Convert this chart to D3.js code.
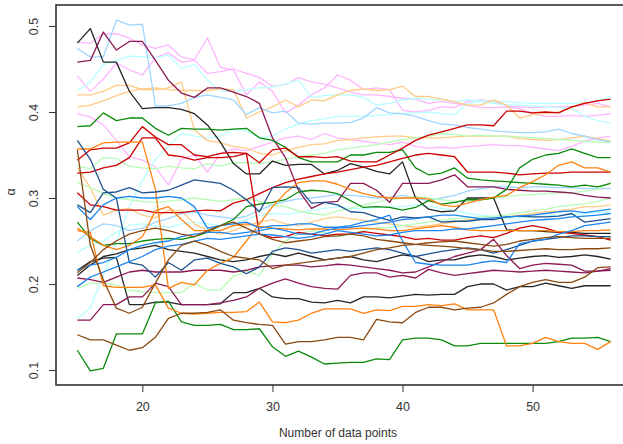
<!DOCTYPE html>
<html><head><meta charset="utf-8">
<script src="https://cdn.jsdelivr.net/npm/d3@7"></script>
<style>
body{margin:0;background:#fff}
svg{display:block}
text{font-family:"Liberation Sans",Arial,Helvetica,sans-serif;fill:#333}
</style>
</head><body>
<svg id="chart" width="623" height="444"></svg>
<script>
// x: number of data points used in each fit
const nPoints = d3.range(15, 57);

// tick labels
const xTicks = [20, 30, 40, 50];
const yTicks = [0.1, 0.2, 0.3, 0.4, 0.5];

// palette
const cBlack = "#262626", cMaroon = "#8b1a55", cSky = "#9fd6ff", cPink = "#ffb6ff",
      cCyan = "#b8ffff", cPeach = "#ffcb85", cGreen = "#0a8a0a", cRed = "#cc0000",
      cOrange = "#ff8210", cNavy = "#1d5390", cBlue = "#1e86f0", cMint = "#b8fcb8",
      cBrown = "#8b4a12";

// estimated alpha for each run
const black1 = [.480,.497,.458,.458,.424,.404,.405, .405,.403,.398,.385,.365,.340,.328, .328,.343,.338,.339,.339,.328,.332, .340,.336,.331,.328,.342,.300,.287, .284,.285,.300,.300,.300,.263,.262, .262,.261,.260,.260,.259,.259,.259];
const black2 = [.216,.226,.230,.231,.176,.176,.179, .179,.176,.176,.176,.177,.190,.190, .195,.185,.183,.183,.179,.178,.181, .178,.185,.185,.184,.186,.188,.187, .188,.188,.197,.200,.200,.193,.197, .197,.201,.198,.195,.198,.198,.198];
const black3 = [.210,.222,.232,.235,.240,.242,.245, .240,.238,.236,.232,.228,.226,.228, .232,.235,.232,.236,.232,.228,.230, .232,.228,.226,.230,.234,.232,.226, .228,.228,.232,.234,.232,.228,.230, .232,.233,.231,.232,.234,.232,.229];
const maroon1 = [.458,.460,.493,.472,.482,.482,.460, .437,.422,.417,.428,.428,.423,.418, .410,.370,.347,.309,.288,.295,.296, .317,.317,.309,.295,.317,.317,.317, .321,.327,.313,.313,.313,.310,.309, .308,.308,.307,.306,.303,.301,.300];
const maroon2 = [.158,.158,.176,.176,.185,.185,.201, .197,.176,.176,.176,.178,.181,.185, .195,.201,.206,.201,.197,.195,.194, .210,.213,.213,.208,.210,.207,.217, .213,.210,.212,.214,.216,.215,.214, .215,.216,.215,.214,.213,.215,.216];
const maroon3 = [.207,.205,.202,.208,.214,.216,.214, .214,.214,.216,.216,.216,.214,.216, .220,.221,.222,.222,.220,.221,.223, .222,.220,.218,.216,.213,.214,.220, .226,.232,.236,.240,.252,.233,.218, .222,.224,.223,.222,.215,.215,.218];
const sky1 = [.474,.464,.464,.507,.501,.502,.407, .407,.410,.417,.420,.417,.414,.397, .405,.399,.401,.387,.386,.387,.387, .388,.393,.405,.399,.398,.395,.390, .386,.385,.382,.380,.378,.377,.376, .376,.377,.380,.375,.372,.368,.365];
const sky2 = [.250,.262,.270,.268,.262,.265,.272, .276,.282,.284,.280,.278,.276,.279, .286,.292,.296,.299,.300,.302,.304, .303,.302,.300,.301,.303,.300,.297, .300,.303,.308,.311,.313,.313,.312, .313,.313,.312,.312,.311,.311,.311];
const pink1 = [.481,.480,.491,.491,.486,.478,.474, .478,.464,.461,.486,.452,.449,.420, .435,.424,.399,.408,.420,.428,.443, .437,.426,.428,.426,.402,.400,.402, .406,.405,.412,.414,.412,.407,.406, .405,.406,.406,.406,.408,.410,.406];
const pink2 = [.442,.424,.438,.457,.449,.443,.463, .469,.458,.460,.445,.447,.450,.445, .440,.430,.432,.440,.435,.432,.428, .423,.420,.420,.418,.416,.415,.410, .412,.410,.408,.405,.405,.406,.404, .398,.395,.395,.396,.395,.396,.398];
const pink3 = [.398,.394,.385,.367,.348,.344,.336, .315,.345,.350,.330,.352,.357,.355, .360,.365,.370,.372,.368,.375,.370, .368,.366,.364,.362,.365,.360,.358, .359,.358,.360,.361,.362,.361,.361, .359,.357,.355,.360,.366,.370,.372];
const cyan1 = [.425,.435,.455,.460,.465,.464,.463, .466,.451,.455,.437,.424,.424,.426, .428,.429,.433,.437,.417,.419,.420, .420,.417,.408,.410,.414,.416,.415, .414,.412,.414,.413,.412,.412,.411, .410,.410,.410,.410,.411,.413,.418];
const cyan2 = [.160,.172,.210,.250,.290,.320,.345, .360,.375,.372,.370,.372,.380,.378, .370,.372,.380,.386,.390,.392,.395, .395,.395,.396,.397,.398,.399,.400, .398,.397,.410,.412,.410,.408,.408, .407,.406,.405,.404,.395,.390,.387];
const cyan3 = [.237,.245,.250,.260,.268,.270,.268, .266,.270,.272,.270,.268,.270,.275, .280,.282,.281,.283,.286,.288,.290, .288,.287,.289,.290,.290,.292,.290, .288,.286,.282,.280,.278,.276,.277, .278,.279,.280,.281,.282,.283,.284];
const peach1 = [.420,.420,.424,.431,.431,.426,.426, .428,.435,.379,.367,.364,.360,.358, .352,.350,.355,.359,.362,.363,.367, .368,.370,.371,.372,.372,.370,.370, .370,.371,.372,.372,.372,.372,.369, .368,.367,.368,.370,.372,.369,.366];
const peach2 = [.406,.408,.413,.419,.424,.427,.428, .426,.425,.425,.425,.427,.426,.393, .400,.406,.414,.406,.414,.413,.420, .425,.427,.425,.426,.430,.418,.418, .415,.412,.408,.408,.414,.408,.393, .397,.398,.400,.405,.411,.406,.406];
const peach3 = [.335,.312,.280,.286,.288,.280,.277, .286,.285,.270,.262,.258,.262,.268, .272,.275,.270,.268,.272,.276,.278, .276,.274,.272,.270,.268,.266,.268, .270,.272,.275,.275,.276,.278,.280, .282,.284,.285,.287,.290,.290,.292];
const green1 = [.383,.384,.399,.390,.393,.393,.381, .373,.381,.380,.380,.379,.380,.381, .370,.367,.359,.347,.342,.342,.342, .350,.350,.353,.353,.356,.335,.327, .329,.335,.323,.321,.320,.319,.318, .317,.316,.315,.313,.315,.313,.317];
const green2 = [.272,.253,.245,.247,.247,.250,.252, .253,.252,.255,.260,.268,.275,.290, .293,.295,.298,.307,.309,.308,.305, .297,.289,.290,.289,.286,.289,.297, .293,.295,.298,.298,.300,.310,.335, .345,.350,.352,.357,.352,.347,.347];
const green3 = [.123,.099,.102,.142,.142,.142,.178, .180,.156,.152,.152,.153,.147,.147, .148,.127,.116,.122,.115,.107,.108, .109,.109,.113,.112,.135,.137,.137, .135,.128,.128,.131,.131,.131,.131, .131,.131,.133,.137,.137,.138,.133];
const red1 = [.344,.356,.358,.358,.364,.383,.371, .362,.362,.350,.348,.352,.353,.352, .341,.356,.358,.348,.348,.347,.348, .343,.342,.342,.350,.358,.367,.373, .377,.381,.385,.385,.384,.401,.401, .399,.400,.399,.406,.410,.413,.415];
const red2 = [.329,.330,.335,.338,.347,.370,.370, .350,.348,.344,.347,.347,.348,.352, .258,.254,.255,.260,.258,.256,.258, .258,.261,.259,.257,.255,.252,.253, .251,.251,.254,.256,.254,.259,.265, .268,.265,.260,.259,.257,.255,.251];
const red3 = [.306,.292,.290,.286,.286,.286,.283, .283,.283,.285,.286,.285,.294,.298, .305,.312,.318,.322,.325,.328,.330, .333,.336,.338,.342,.346,.350,.352, .350,.348,.330,.330,.330,.329,.327, .328,.329,.329,.330,.330,.330,.330];
const orange1 = [.357,.357,.364,.365,.365,.365,.310, .195,.202,.199,.216,.224,.231,.250, .270,.290,.306,.318,.320,.320,.316, .310,.305,.302,.300,.300,.300,.299, .292,.290,.294,.298,.301,.303,.312, .319,.327,.338,.342,.335,.335,.330];
const orange2 = [.262,.260,.198,.196,.196,.196,.199, .172,.166,.165,.166,.167,.167,.168, .179,.156,.155,.158,.166,.171,.171, .171,.166,.170,.169,.174,.174,.176, .175,.177,.170,.170,.170,.128,.128, .131,.138,.133,.131,.131,.124,.133];
const orange3 = [.265,.255,.245,.240,.245,.255,.285, .290,.275,.262,.262,.262,.268,.270, .267,.265,.264,.263,.264,.264,.263, .264,.265,.264,.262,.262,.264,.266, .268,.266,.263,.262,.262,.262,.262, .262,.262,.261,.261,.262,.262,.263];
const navy1 = [.367,.345,.310,.300,.225,.222,.208, .225,.216,.228,.230,.224,.220,.212, .220,.238,.242,.240,.236,.238,.240, .238,.240,.242,.240,.236,.232,.235, .238,.240,.242,.240,.236,.240,.245, .250,.252,.254,.256,.256,.255,.255];
const navy2 = [.292,.283,.306,.307,.312,.306,.307, .309,.315,.321,.319,.317,.309,.298, .284,.312,.313,.312,.294,.295,.292, .284,.283,.278,.274,.278,.277,.278, .272,.273,.273,.275,.275,.278,.279, .278,.278,.279,.282,.272,.274,.276];
const blue1 = [.290,.275,.292,.300,.302,.300,.300, .302,.300,.290,.265,.268,.270,.272, .265,.268,.268,.270,.270,.266,.266, .268,.272,.275,.280,.250,.225,.223, .222,.222,.222,.225,.227,.225,.247, .250,.252,.258,.262,.268,.270,.272];
const blue2 = [.216,.222,.225,.231,.240,.245,.248, .250,.255,.258,.260,.260,.258,.260, .262,.265,.262,.258,.258,.262,.265, .266,.268,.270,.272,.275,.276,.278, .280,.280,.278,.276,.277,.278,.279, .280,.282,.284,.285,.283,.285,.287];
const blue3 = [.197,.208,.214,.220,.226,.232,.240, .244,.246,.250,.253,.252,.254,.256, .258,.257,.255,.253,.255,.258,.262, .260,.258,.256,.257,.260,.262,.262, .262,.264,.264,.266,.268,.270,.272, .274,.275,.276,.278,.279,.280,.282];
const mint1 = [.337,.334,.347,.346,.337,.335,.334, .337,.335,.334,.340,.337,.341,.341, .340,.342,.345,.348,.350,.352,.356, .358,.360,.362,.365,.368,.370,.372, .375,.374,.372,.373,.372,.372,.371, .370,.369,.368,.367,.366,.365,.364];
const mint2 = [.195,.201,.201,.199,.193,.191,.190, .190,.190,.201,.193,.193,.209,.215, .210,.235,.250,.258,.262,.260,.255, .258,.262,.265,.266,.268,.270,.272, .274,.276,.277,.278,.279,.280,.283, .285,.287,.290,.292,.293,.296,.300];
const mint3 = [.318,.312,.305,.300,.298,.296,.295, .296,.298,.300,.298,.296,.298,.300, .296,.292,.290,.285,.282,.280,.285, .288,.292,.295,.298,.300,.302,.300, .298,.296,.296,.298,.300,.302,.303, .304,.305,.306,.306,.308,.310,.318];
const brown1 = [.356,.245,.205,.172,.166,.173,.201, .228,.245,.250,.245,.238,.232,.230, .228,.218,.222,.224,.226,.228,.230, .232,.236,.240,.242,.245,.246,.248, .249,.250,.248,.246,.244,.246,.250, .252,.254,.255,.254,.253,.253,.253];
const brown2 = [.141,.135,.135,.129,.123,.126,.138, .160,.166,.166,.167,.170,.158,.155, .153,.152,.130,.133,.133,.135,.138, .138,.135,.159,.156,.155,.167,.173, .173,.170,.172,.173,.178,.188,.197, .202,.205,.202,.202,.208,.219,.220];
const brown3 = [.213,.225,.240,.250,.258,.262,.265, .262,.258,.255,.262,.268,.272,.265, .258,.252,.248,.250,.252,.255,.256, .258,.256,.252,.250,.248,.246,.245, .244,.243,.241,.240,.238,.238,.239, .240,.241,.240,.240,.241,.241,.242];

const runs = [
  [pink1, cPink], [pink2, cPink], [pink3, cPink],
  [cyan1, cCyan], [cyan2, cCyan], [cyan3, cCyan],
  [peach1, cPeach], [peach2, cPeach], [peach3, cPeach],
  [sky1, cSky], [sky2, cSky],
  [mint1, cMint], [mint2, cMint], [mint3, cMint],
  [black1, cBlack], [black2, cBlack], [black3, cBlack],
  [maroon1, cMaroon], [maroon2, cMaroon], [maroon3, cMaroon],
  [green1, cGreen], [green2, cGreen], [green3, cGreen],
  [red1, cRed], [red2, cRed], [red3, cRed],
  [orange1, cOrange], [orange2, cOrange], [orange3, cOrange],
  [navy1, cNavy], [navy2, cNavy],
  [blue1, cBlue], [blue2, cBlue], [blue3, cBlue],
  [brown1, cBrown], [brown2, cBrown], [brown3, cBrown]
];

const svg = d3.select("#chart");
const plotL = 56, plotT = 5, plotR = 632, plotB = 385;

const x = d3.scaleLinear().domain([13.36, 57.64]).range([plotL, plotR]);
const y = d3.scaleLinear().domain([0.0826, 0.5244]).range([plotB, plotT]);

svg.append("defs").append("clipPath").attr("id", "plotArea")
  .append("rect").attr("x", plotL).attr("y", plotT)
  .attr("width", plotR - plotL).attr("height", plotB - plotT);

const line = d3.line().x((d, i) => x(nPoints[i])).y(d => y(d));

svg.append("g").attr("clip-path", "url(#plotArea)")
  .selectAll("path").data(runs).join("path")
  .attr("d", d => line(d[0]))
  .attr("fill", "none")
  .attr("stroke", d => d[1])
  .attr("stroke-width", 1.3)
  .attr("stroke-linejoin", "round");

// frame
svg.append("rect").attr("x", plotL).attr("y", plotT)
  .attr("width", plotR - plotL).attr("height", plotB - plotT)
  .attr("fill", "none").attr("stroke", "#333").attr("stroke-width", 1.6);

// bottom axis
const gx = svg.append("g").attr("transform", `translate(0,${plotB})`)
  .call(d3.axisBottom(x).tickValues(xTicks).tickSize(7).tickPadding(10));
gx.select(".domain").remove();
gx.selectAll(".tick line").attr("stroke", "#333").attr("stroke-width", 1);
gx.selectAll(".tick text").attr("font-size", 12.5).attr("fill", "#333")
  .style("font-family", '"Liberation Sans", Arial, sans-serif');

// left axis, labels parallel to the axis
const gy = svg.append("g").attr("transform", `translate(${plotL},0)`)
  .call(d3.axisLeft(y).tickValues(yTicks).tickFormat(d3.format(".1f")).tickSize(7));
gy.select(".domain").remove();
gy.selectAll(".tick line").attr("stroke", "#333").attr("stroke-width", 1);
gy.selectAll(".tick text")
  .attr("x", null).attr("dy", null)
  .attr("text-anchor", "middle")
  .attr("transform", "translate(-18,0) rotate(-90)")
  .attr("font-size", 12.5).attr("fill", "#333")
  .style("font-family", '"Liberation Sans", Arial, sans-serif');

// axis titles
svg.append("text").attr("x", 338).attr("y", 437).attr("text-anchor", "middle")
  .attr("font-size", 12).text("Number of data points");
svg.append("text").attr("transform", "translate(15,192) rotate(-90)")
  .attr("text-anchor", "middle").attr("font-size", 12.5).text("α");
</script>
</body></html>
